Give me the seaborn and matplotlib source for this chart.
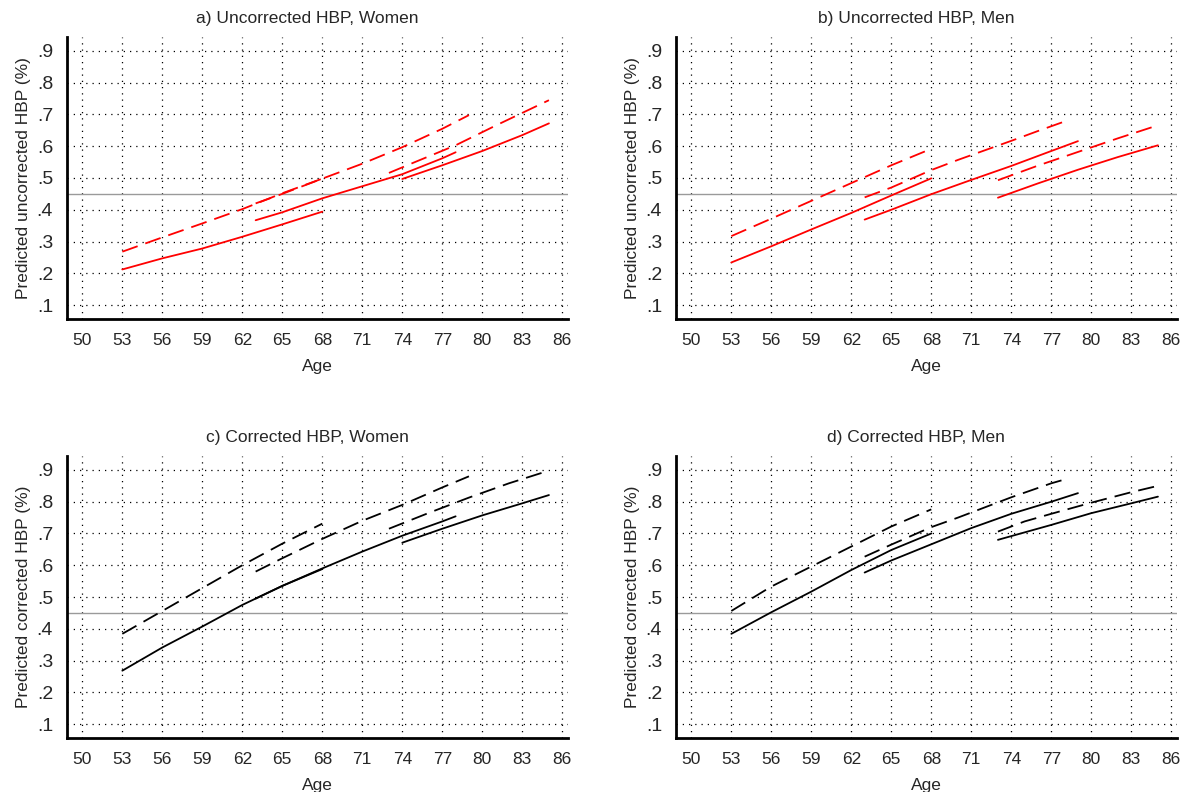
import matplotlib
matplotlib.use("Agg")
import matplotlib.pyplot as plt
import seaborn as sns
import pandas as pd
import numpy as np

# ---------------------------------------------------------------
# data (predicted HBP share by age)
# ---------------------------------------------------------------
# a) uncorrected, women
a_solid_53_age = [53, 56, 59, 62, 65, 68]
a_solid_53 = [0.212, 0.247, 0.278, 0.315, 0.354, 0.394]
a_solid_63_age = [63, 65, 68, 71, 74, 77, 78]
a_solid_63 = [0.367, 0.392, 0.436, 0.474, 0.512, 0.562, 0.581]
a_solid_74_age = [74, 77, 80, 83, 85]
a_solid_74 = [0.497, 0.540, 0.585, 0.635, 0.672]
a_dash_53_age = [53, 56, 59, 62, 65, 68]
a_dash_53 = [0.268, 0.313, 0.357, 0.402, 0.452, 0.498]
a_dash_63_age = [63, 65, 68, 71, 74, 77, 79]
a_dash_63 = [0.420, 0.450, 0.498, 0.545, 0.597, 0.655, 0.698]
a_dash_73_age = [73, 75, 78, 81, 83, 85]
a_dash_73 = [0.516, 0.551, 0.603, 0.665, 0.705, 0.745]

# b) uncorrected, men
b_solid_53_age = [53, 56, 59, 62, 65, 68]
b_solid_53 = [0.234, 0.285, 0.338, 0.390, 0.445, 0.499]
b_solid_63_age = [63, 65, 68, 71, 74, 77, 79]
b_solid_63 = [0.369, 0.400, 0.449, 0.494, 0.538, 0.585, 0.616]
b_solid_73_age = [73, 76, 79, 82, 85]
b_solid_73 = [0.438, 0.483, 0.526, 0.566, 0.603]
b_dash_53_age = [53, 56, 59, 62, 65, 68]
b_dash_53 = [0.317, 0.372, 0.428, 0.484, 0.540, 0.592]
b_dash_63_age = [63, 65, 68, 70, 74, 76, 78]
b_dash_63 = [0.439, 0.470, 0.525, 0.557, 0.617, 0.648, 0.678]
b_dash_73_age = [73, 76, 79, 82, 85]
b_dash_73 = [0.493, 0.539, 0.582, 0.625, 0.666]

# c) corrected, women
c_solid_53_age = [53, 56, 59, 62, 65, 68]
c_solid_53 = [0.268, 0.341, 0.407, 0.475, 0.535, 0.588]
c_solid_63_age = [63, 65, 68, 71, 74, 77, 78]
c_solid_63 = [0.495, 0.535, 0.590, 0.643, 0.693, 0.738, 0.754]
c_solid_74_age = [74, 77, 80, 83, 85]
c_solid_74 = [0.671, 0.715, 0.757, 0.795, 0.821]
c_dash_53_age = [53, 56, 59, 62, 65, 68]
c_dash_53 = [0.384, 0.456, 0.528, 0.600, 0.668, 0.731]
c_dash_63_age = [63, 65, 68, 71, 74, 77, 79]
c_dash_63 = [0.580, 0.622, 0.683, 0.740, 0.790, 0.845, 0.880]
c_dash_73_age = [73, 76, 79, 82, 85]
c_dash_73 = [0.715, 0.765, 0.813, 0.858, 0.898]

# d) corrected, men
d_solid_53_age = [53, 56, 59, 62, 65, 68]
d_solid_53 = [0.384, 0.452, 0.517, 0.585, 0.648, 0.700]
d_solid_63_age = [63, 65, 68, 71, 74, 77, 79]
d_solid_63 = [0.577, 0.615, 0.666, 0.717, 0.762, 0.800, 0.827]
d_solid_73_age = [73, 77, 80, 83, 85]
d_solid_73 = [0.680, 0.727, 0.764, 0.795, 0.816]
d_dash_53_age = [53, 56, 59, 62, 65, 68]
d_dash_53 = [0.456, 0.533, 0.596, 0.659, 0.722, 0.776]
d_dash_63_age = [63, 65, 68, 70, 74, 77, 78]
d_dash_63 = [0.627, 0.665, 0.720, 0.750, 0.814, 0.858, 0.870]
d_dash_73_age = [73, 75, 77, 80, 83, 85]
d_dash_73 = [0.706, 0.738, 0.762, 0.797, 0.830, 0.850]

ref_level = 0.45
x_ticks = list(range(50, 87, 3))
y_ticks = [0.1, 0.2, 0.3, 0.4, 0.5, 0.6, 0.7, 0.8, 0.9]
y_ticklabels = ['.1', '.2', '.3', '.4', '.5', '.6', '.7', '.8', '.9']

titles = ['a) Uncorrected HBP, Women', 'b) Uncorrected HBP, Men',
          'c) Corrected HBP, Women', 'd) Corrected HBP, Men']
ylabels = ['Predicted uncorrected HBP (%)', 'Predicted uncorrected HBP (%)',
           'Predicted corrected HBP (%)', 'Predicted corrected HBP (%)']
colors = ['#ff0000', '#ff0000', 'black', 'black']


def build_frame(series):
    rows = []
    for name, kind, ages, vals in series:
        for a, v in zip(ages, vals):
            rows.append({'series': name, 'kind': kind, 'age': a, 'value': v})
    return pd.DataFrame(rows)


panels = [
    build_frame([('s53', 'solid', a_solid_53_age, a_solid_53),
                 ('s63', 'solid', a_solid_63_age, a_solid_63),
                 ('s74', 'solid', a_solid_74_age, a_solid_74),
                 ('d53', 'dashed', a_dash_53_age, a_dash_53),
                 ('d63', 'dashed', a_dash_63_age, a_dash_63),
                 ('d73', 'dashed', a_dash_73_age, a_dash_73)]),
    build_frame([('s53', 'solid', b_solid_53_age, b_solid_53),
                 ('s63', 'solid', b_solid_63_age, b_solid_63),
                 ('s73', 'solid', b_solid_73_age, b_solid_73),
                 ('d53', 'dashed', b_dash_53_age, b_dash_53),
                 ('d63', 'dashed', b_dash_63_age, b_dash_63),
                 ('d73', 'dashed', b_dash_73_age, b_dash_73)]),
    build_frame([('s53', 'solid', c_solid_53_age, c_solid_53),
                 ('s63', 'solid', c_solid_63_age, c_solid_63),
                 ('s74', 'solid', c_solid_74_age, c_solid_74),
                 ('d53', 'dashed', c_dash_53_age, c_dash_53),
                 ('d63', 'dashed', c_dash_63_age, c_dash_63),
                 ('d73', 'dashed', c_dash_73_age, c_dash_73)]),
    build_frame([('s53', 'solid', d_solid_53_age, d_solid_53),
                 ('s63', 'solid', d_solid_63_age, d_solid_63),
                 ('s73', 'solid', d_solid_73_age, d_solid_73),
                 ('d53', 'dashed', d_dash_53_age, d_dash_53),
                 ('d63', 'dashed', d_dash_63_age, d_dash_63),
                 ('d73', 'dashed', d_dash_73_age, d_dash_73)]),
]

sns.set_style('white')
plt.rcParams['font.family'] = ['Liberation Sans', 'DejaVu Sans']

W, H = 1189, 792
fig = plt.figure(figsize=(W / 100, H / 100), dpi=100)

# axes boxes in pixels: left, top, right, bottom
boxes = [(67, 37, 568, 319), (676, 37, 1177, 319),
         (67, 456, 568, 738), (676, 456, 1177, 738)]

for k, (l, t, r, b) in enumerate(boxes):
    ax = fig.add_axes([l / W, 1 - b / H, (r - l) / W, (b - t) / H])
    df = panels[k]

    # grid: dotted black at each tick
    for xv in x_ticks:
        ax.axvline(xv, color='black', lw=0.9, ls=(0, (1, 4)), zorder=0)
    for yv in y_ticks:
        ax.axhline(yv, color='black', lw=0.9, ls=(0, (1, 4)), zorder=0)
    ax.axhline(ref_level, color='#9a9a9a', lw=1.0, zorder=1)

    sns.lineplot(data=df, x='age', y='value', units='series', estimator=None,
                 style='kind', style_order=['solid', 'dashed'],
                 dashes={'solid': '', 'dashed': (9, 4.5)},
                 color=colors[k], lw=1.3, legend=False, ax=ax, zorder=3)

    ax.set_xlim(48.85, 86.43)
    ax.set_ylim(0.056, 0.944)
    ax.set_xticks(x_ticks)
    ax.set_xticklabels([str(x) for x in x_ticks])
    ax.set_yticks(y_ticks)
    ax.set_yticklabels(y_ticklabels)

    for side in ['top', 'right']:
        ax.spines[side].set_visible(False)
    for side in ['left', 'bottom']:
        ax.spines[side].set_linewidth(2.0)
        ax.spines[side].set_color('black')

    ax.tick_params(axis='both', direction='out', length=6, width=1.8,
                   color='black', labelsize=12.5, pad=4)
    ax.tick_params(axis='y', labelsize=14)

    ax.set_xlabel('Age', fontsize=12.5, labelpad=8)
    ax.set_ylabel(ylabels[k], fontsize=12.5, labelpad=4)
    ax.set_title(titles[k], fontsize=12.5, pad=10, x=0.479)

plt.savefig('out.png', dpi=100)
